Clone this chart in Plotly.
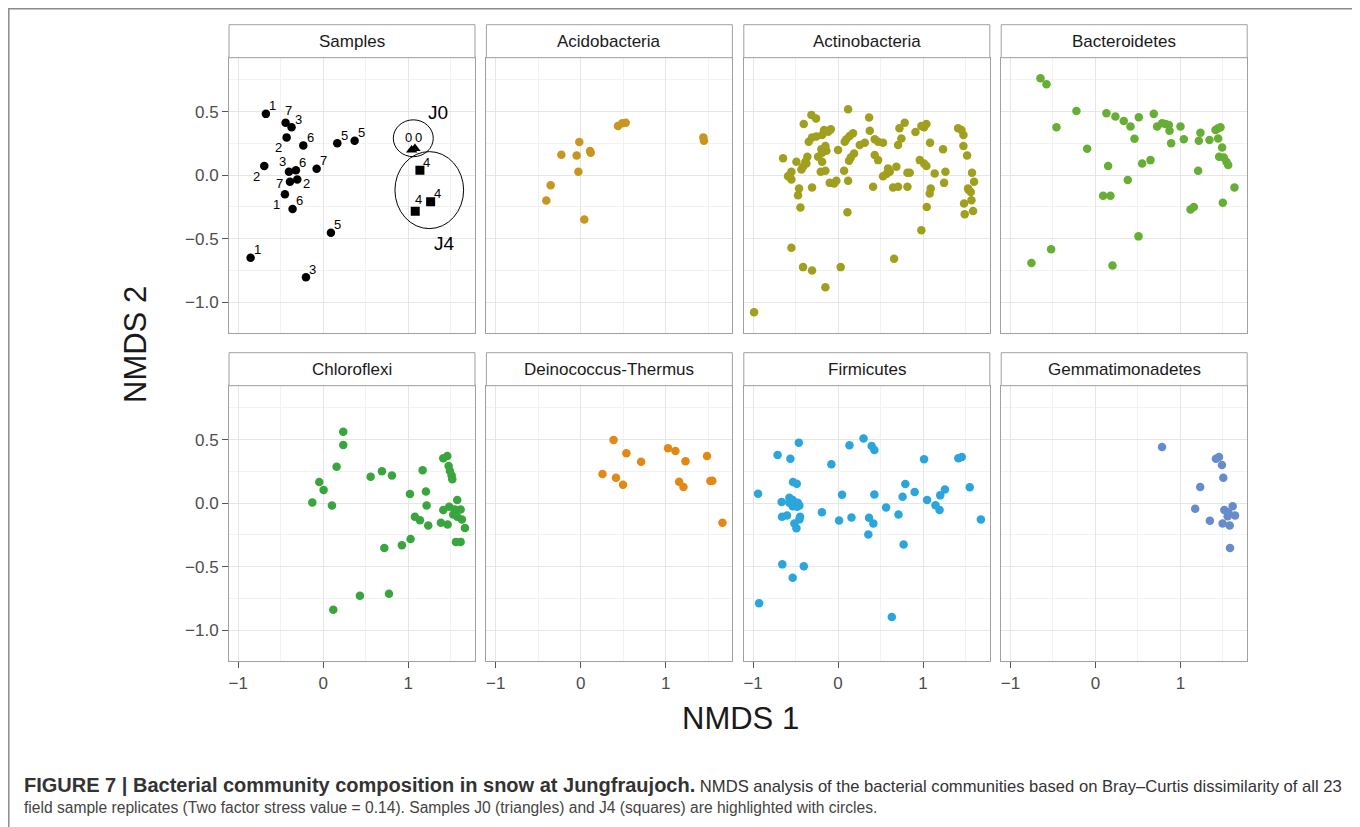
import plotly.graph_objects as go

W, H = 1360, 827

# ---------------- data ----------------
panel_names = ["Samples", "Acidobacteria", "Actinobacteria", "Bacteroidetes",
               "Chloroflexi", "Deinococcus-Thermus", "Firmicutes", "Gemmatimonadetes"]

# Samples panel: circles with replicate number labels
samp_x = [-0.675, -0.443, -0.373, -0.431, -0.235, 0.165, 0.369, -0.694, -0.078,
          -0.404, -0.322, -0.392, -0.306, -0.451, -0.361, 0.09, -0.855, -0.204]
samp_y = [0.482, 0.413, 0.376, 0.297, 0.234, 0.25, 0.271, 0.071, 0.05,
          0.026, 0.039, -0.053, -0.034, -0.15, -0.266, -0.453, -0.65, -0.803]
samp_lab = ["1", "7", "3", "2", "6", "5", "5", "2", "7",
            "3", "6", "7", "2", "1", "6", "5", "1", "3"]
samp_pos = ["ur", "u", "ur", "ll", "ur", "ur", "ur", "ll", "ur",
            "ul", "ur", "l", "r", "ll", "ur", "ur", "ur", "ur"]

# J0 (triangles) and J4 (squares)
j0_x = [1.04, 1.078]
j0_y = [0.197, 0.21]
j0_lab = ["0", "0"]
j0_pos = ["uul", "uur"]
j4_x = [1.137, 1.263, 1.082]
j4_y = [0.039, -0.21, -0.284]
j4_lab = ["4", "4", "4"]
j4_pos = ["ur", "ur", "u"]

# highlight circles: centre x, centre y, radius x, radius y
ring_names = ["J0", "J4"]
ring_cx = [1.059, 1.247]
ring_cy = [0.29, -0.118]
ring_rx = [0.235, 0.404]
ring_ry = [0.145, 0.303]
ring_lab_x = [1.35, 1.43]
ring_lab_y = [0.49, -0.54]

acido_x = [0.439, 0.49, 0.53, 1.443, 1.45, -0.016, -0.227, -0.047, 0.11, 0.118,
           -0.027, -0.353, -0.404, 0.043]
acido_y = [0.387, 0.408, 0.413, 0.297, 0.271, 0.26, 0.16, 0.155, 0.19, 0.176,
           0.026, -0.079, -0.2, -0.35]

actino_x = [0.118, -0.314, -0.259, 0.365, -0.404, 0.784, 0.722, 0.373, 1.039, 1.012,
            0.98, 0.91, 1.412, 1.451, 1.475, -0.165, -0.086, -0.118, -0.188, -0.255,
            -0.306, -0.345, 0.176, 0.137, 0.098, 0.078, 0.431, 0.471, 0.529, 0.314,
            0.255, 0.745, 0.706, 1.082, 1.235, 1.475, 1.518, -0.149, -0.196, -0.137,
            -0.188, -0.235, -0.188, -0.149, -0.204, 0.0, 0.188, 0.149, 0.129, 0.431,
            0.471, -0.647, -0.49, -0.361, -0.384, -0.412, -0.431, -0.373, -0.549, -0.588,
            -0.549, -0.569, 0.071, 0.588, 0.686, 0.569, 0.529, 0.608, 0.816, 0.843,
            0.961, 1.012, 1.039, 1.137, 1.263, 1.247, 1.576, 1.6, 1.529, 1.561,
            1.537, 1.569, 1.482, 1.588, 1.49, -0.098, -0.047, -0.02, 0.118, -0.306,
            -0.459, -0.471, -0.443, 0.11, 0.412, 0.647, 0.706, 0.816, 1.09, 1.078,
            1.043, 0.98, -0.549, -0.412, -0.306, 0.031, -0.149, 0.659, -0.988]
actino_y = [0.518, 0.474, 0.445, 0.453, 0.403, 0.413, 0.368, 0.35, 0.403, 0.376,
            0.387, 0.34, 0.368, 0.355, 0.316, 0.355, 0.36, 0.342, 0.316, 0.303,
            0.297, 0.263, 0.329, 0.308, 0.282, 0.263, 0.282, 0.263, 0.255, 0.255,
            0.237, 0.289, 0.237, 0.255, 0.203, 0.229, 0.155, 0.229, 0.203, 0.192,
            0.176, 0.145, 0.105, 0.034, 0.026, 0.197, 0.171, 0.139, 0.113, 0.158,
            0.118, 0.132, 0.105, 0.145, 0.105, 0.066, 0.045, 0.092, 0.026, -0.008,
            -0.034, 0.0, 0.034, 0.053, 0.066, 0.008, -0.008, 0.026, 0.018, 0.018,
            0.118, 0.092, 0.071, 0.013, 0.026, -0.061, 0.018, -0.053, -0.105, -0.132,
            -0.118, -0.197, -0.224, -0.282, -0.308, -0.061, -0.066, -0.045, -0.045, -0.097,
            -0.105, -0.158, -0.255, -0.292, -0.092, -0.097, -0.092, -0.092, -0.105, -0.145,
            -0.25, -0.434, -0.571, -0.724, -0.75, -0.724, -0.882, -0.658, -1.079]

bactero_x = [-0.647, -0.576, -0.224, -0.459, -0.098, 0.129, 0.235, 0.333, 0.412, 0.51,
             0.459, 0.686, 0.725, 0.784, 0.824, 0.863, 0.871, 0.89, 1.0, 1.039,
             1.235, 1.216, 1.341, 1.412, 1.443, 1.471, 1.443, 1.49, 1.455, 1.51,
             1.541, 1.561, 0.149, 0.549, 0.647, 1.208, 0.38, 0.09, 0.176, 1.635,
             1.118, 1.157, 1.498, 0.506, -0.522, -0.753, 0.2]
bactero_y = [0.763, 0.716, 0.505, 0.376, 0.208, 0.487, 0.461, 0.426, 0.382, 0.455,
             0.287, 0.482, 0.382, 0.408, 0.403, 0.395, 0.35, 0.25, 0.382, 0.282,
             0.334, 0.271, 0.276, 0.355, 0.368, 0.376, 0.289, 0.218, 0.145, 0.139,
             0.105, 0.079, 0.071, 0.092, 0.118, 0.034, -0.039, -0.163, -0.163, -0.097,
             -0.271, -0.25, -0.218, -0.482, -0.584, -0.692, -0.711]

chloro_x = [0.235, 0.235, 0.157, -0.047, 0.004, -0.129, 0.102, 0.557, 0.69, 0.808,
            1.169, 1.02, 1.208, 1.216, 1.412, 1.459, 1.475, 1.49, 1.51, 1.518,
            1.576, 1.412, 1.482, 1.549, 1.616, 1.529, 1.631, 1.576, 1.667, 1.463,
            1.384, 1.078, 1.137, 1.235, 1.561, 1.616, 1.027, 0.925, 0.718, 0.431,
            0.773, 0.118]
chloro_y = [0.561, 0.458, 0.287, 0.166, 0.103, 0.005, -0.018, 0.208, 0.25, 0.218,
            0.258, 0.071, 0.092, -0.018, 0.353, 0.371, 0.292, 0.253, 0.218, 0.187,
            0.024, -0.055, -0.029, -0.05, -0.05, -0.089, -0.129, -0.108, -0.195, -0.168,
            -0.155, -0.108, -0.134, -0.176, -0.305, -0.305, -0.282, -0.332, -0.353, -0.729,
            -0.713, -0.839]

deino_x = [0.387, 0.538, 0.711, 0.257, 0.415, 0.498, 1.028, 1.115, 1.233, 1.486,
           1.158, 1.209, 1.526, 1.549, 1.668]
deino_y = [0.497, 0.392, 0.326, 0.229, 0.2, 0.145, 0.432, 0.411, 0.329, 0.371,
           0.168, 0.126, 0.174, 0.176, -0.155]

firmi_x = [-0.462, -0.711, -0.561, -0.941, -0.079, 0.134, 0.3, 0.395, 0.427, 1.012,
           1.415, 1.455, 1.549, 1.257, 1.202, 1.047, 1.146, 1.194, 0.901, 0.791,
           0.759, 0.711, 0.427, 0.565, 0.364, 0.415, 0.356, 0.771, 0.047, 0.158,
           0.012, -0.19, 1.68, -0.53, -0.486, -0.664, -0.573, -0.534, -0.474, -0.534,
           -0.482, -0.455, -0.573, -0.66, -0.601, -0.447, -0.455, -0.514, -0.49, -0.656,
           -0.403, -0.534, -0.929, 0.632]
firmi_y = [0.476, 0.379, 0.35, 0.074, 0.305, 0.455, 0.508, 0.45, 0.418, 0.345,
           0.353, 0.363, 0.124, 0.108, 0.061, 0.024, -0.016, -0.055, 0.087, 0.15,
           0.05, -0.089, 0.068, -0.034, -0.116, -0.161, -0.247, -0.326, 0.066, -0.113,
           -0.137, -0.071, -0.129, 0.166, 0.153, 0.008, 0.042, 0.024, 0.003, -0.024,
           -0.029, -0.018, 0.003, -0.108, -0.097, -0.108, -0.129, -0.161, -0.197, -0.482,
           -0.497, -0.587, -0.787, -0.897]

gemma_x = [0.783, 1.417, 1.453, 1.488, 1.504, 1.232, 1.173, 1.346, 1.496, 1.579,
           1.516, 1.563, 1.614, 1.642, 1.555, 1.583]
gemma_y = [0.442, 0.35, 0.363, 0.3, 0.2, 0.126, -0.045, -0.139, -0.161, -0.176,
           -0.055, -0.071, -0.024, -0.097, -0.103, -0.353]

phyla = [
    (acido_x, acido_y, "#C8961E"),
    (actino_x, actino_y, "#A0A01E"),
    (bactero_x, bactero_y, "#66AE34"),
    (chloro_x, chloro_y, "#38A63C"),
    (deino_x, deino_y, "#E28815"),
    (firmi_x, firmi_y, "#2AA6DC"),
    (gemma_x, gemma_y, "#668CCB"),
]

# ---------------- layout geometry (screen pixels) ----------------
FONT = "Liberation Sans, Arial, Helvetica, sans-serif"
OFF = 8  # page margin the browser puts round the plot div
col_left = [229, 486.4, 743.8, 1001.2]
panel_w = 246
row_top = [57.7, 385.7]
panel_h = 275.5
strip_h = 33
X_RANGE = [-1.109, 1.785]
Y_RANGE = [-1.244, 0.924]
GRID = "#E6E6E6"
MINOR = "#F2F2F2"
BORDER = "#A0A0A0"

label_off = {"ur": (7, 8), "u": (3, 12), "ul": (-6, 10), "l": (-10, -2),
             "r": (9, -4), "ll": (-8, -10), "uul": (-3, 13), "uur": (4, 11)}


def px(x):
    return (x - OFF) / W


def py(y):
    return 1 - (y - OFF) / H


fig = go.Figure()
layout = {}
shapes = []
annotations = []

for i in range(8):
    r, c = divmod(i, 4)
    n = i + 1
    xa = "xaxis" if n == 1 else f"xaxis{n}"
    ya = "yaxis" if n == 1 else f"yaxis{n}"
    xr = "x" if n == 1 else f"x{n}"
    yr = "y" if n == 1 else f"y{n}"
    left, top = col_left[c], row_top[r]
    layout[xa] = dict(
        domain=[px(left), px(left + panel_w)], anchor=yr, range=X_RANGE,
        dtick=1, tick0=0, showgrid=True, gridcolor=GRID, gridwidth=1,
        minor=dict(dtick=0.5, tick0=0, showgrid=True, gridcolor=MINOR, gridwidth=1),
        zeroline=False, showline=True, linecolor=BORDER, linewidth=1, mirror=True,
        ticks="outside" if r == 1 else "", ticklen=6, tickcolor="#555555",
        showticklabels=(r == 1),
        tickfont=dict(family=FONT, size=17, color="#4D4D4D"),
    )
    layout[ya] = dict(
        domain=[py(top + panel_h), py(top)], anchor=xr, range=Y_RANGE,
        dtick=0.5, tick0=0, tickformat=".1f", showgrid=True, gridcolor=GRID, gridwidth=1,
        minor=dict(dtick=0.25, tick0=0, showgrid=True, gridcolor=MINOR, gridwidth=1),
        zeroline=False, showline=True, linecolor=BORDER, linewidth=1, mirror=True,
        ticks="outside" if c == 0 else "", ticklen=6, tickcolor="#555555",
        showticklabels=(c == 0),
        tickfont=dict(family=FONT, size=17, color="#4D4D4D"),
    )
    # strip
    shapes.append(dict(type="rect", xref="paper", yref="paper",
                       x0=px(left), x1=px(left + panel_w),
                       y0=py(top), y1=py(top - strip_h),
                       fillcolor="#FFFFFF", line=dict(color=BORDER, width=1)))
    annotations.append(dict(text=panel_names[i], xref="paper", yref="paper",
                            x=px(left + panel_w / 2), y=py(top - strip_h / 2),
                            xanchor="center", yanchor="middle", showarrow=False,
                            font=dict(family=FONT, size=17, color="#1A1A1A")))

    if i == 0:
        fig.add_trace(go.Scatter(x=samp_x, y=samp_y, mode="markers", xaxis=xr, yaxis=yr,
                                 marker=dict(color="black", size=8.5), showlegend=False))
        fig.add_trace(go.Scatter(x=j0_x, y=j0_y, mode="markers", xaxis=xr, yaxis=yr,
                                 marker=dict(color="black", size=10, symbol="triangle-up"),
                                 showlegend=False))
        fig.add_trace(go.Scatter(x=j4_x, y=j4_y, mode="markers", xaxis=xr, yaxis=yr,
                                 marker=dict(color="black", size=9, symbol="square"),
                                 showlegend=False))
        for xs, ys, labs, pos in [(samp_x, samp_y, samp_lab, samp_pos),
                                  (j0_x, j0_y, j0_lab, j0_pos),
                                  (j4_x, j4_y, j4_lab, j4_pos)]:
            for x, y, t, p in zip(xs, ys, labs, pos):
                dx, dy = label_off[p]
                annotations.append(dict(text=t, x=x, y=y, xref=xr, yref=yr,
                                        xshift=dx, yshift=dy, showarrow=False,
                                        font=dict(family=FONT, size=13, color="black")))
        for k in range(len(ring_names)):
            shapes.append(dict(type="circle", xref=xr, yref=yr,
                               x0=ring_cx[k] - ring_rx[k], x1=ring_cx[k] + ring_rx[k],
                               y0=ring_cy[k] - ring_ry[k], y1=ring_cy[k] + ring_ry[k],
                               line=dict(color="black", width=1)))
            annotations.append(dict(text=ring_names[k], x=ring_lab_x[k], y=ring_lab_y[k],
                                    xref=xr, yref=yr, showarrow=False,
                                    font=dict(family=FONT, size=19, color="black")))
    else:
        xs, ys, col = phyla[i - 1]
        fig.add_trace(go.Scatter(x=xs, y=ys, mode="markers", xaxis=xr, yaxis=yr,
                                 marker=dict(color=col, size=8.5), showlegend=False))

# axis titles
annotations.append(dict(text="NMDS 1", xref="paper", yref="paper", x=px(740), y=py(718),
                        xanchor="center", yanchor="middle", showarrow=False,
                        font=dict(family=FONT, size=31, color="#1A1A1A")))
annotations.append(dict(text="NMDS 2", xref="paper", yref="paper", x=px(135), y=py(345),
                        xanchor="center", yanchor="middle", showarrow=False, textangle=-90,
                        font=dict(family=FONT, size=31, color="#1A1A1A")))

# caption
annotations.append(dict(
    text="<b><span style='font-size:20px'>FIGURE 7 | Bacterial community composition "
         "in snow at Jungfraujoch.</span></b> "
         "NMDS analysis of the bacterial communities based on Bray\u2013Curtis dissimilarity of all 23",
    xref="paper", yref="paper", x=px(22), y=py(785), xanchor="left", yanchor="middle",
    showarrow=False, font=dict(family=FONT, size=16.6, color="#333333")))
annotations.append(dict(
    text="field sample replicates (Two factor stress value = 0.14). Samples J0 (triangles) "
         "and J4 (squares) are highlighted with circles.",
    xref="paper", yref="paper", x=px(22), y=py(807), xanchor="left", yanchor="middle",
    showarrow=False, font=dict(family=FONT, size=15.6, color="#444444")))

# outer frame (left/top edges sit just inside the plot area)
shapes.append(dict(type="rect", xref="paper", yref="paper", x0=px(8.8), x1=px(1354),
                   y0=-0.05, y1=py(8.8), line=dict(color="#8C8C8C", width=1.5)))

fig.update_layout(
    width=W, height=H, margin=dict(l=0, r=0, t=0, b=0),
    paper_bgcolor="white", plot_bgcolor="white",
    shapes=shapes, annotations=annotations, showlegend=False,
    **layout,
)

fig.write_html("out.html")
